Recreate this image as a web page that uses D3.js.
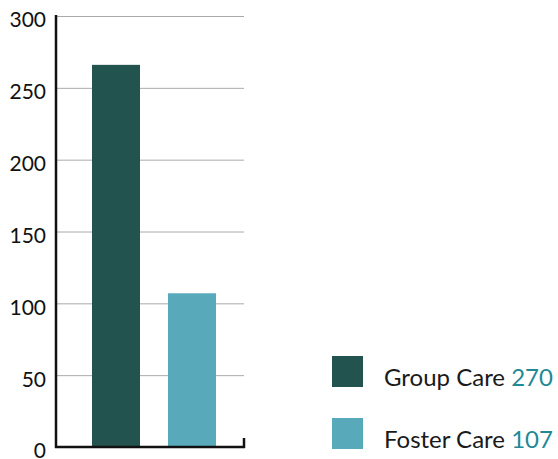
<!DOCTYPE html>
<html>
<head>
<meta charset="utf-8">
<script src="https://cdn.jsdelivr.net/npm/d3@7"></script>
<style>
  body { margin: 0; background: #fff; }
  svg { display: block; }
</style>
</head>
<body>
<div id="chart"></div>
<script>
var categories = ['Group Care', 'Foster Care'];
var barValues = [266, 107];
var legendValues = ['270', '107'];
var yTicks = [0, 50, 100, 150, 200, 250, 300];
var colours = ['#22534f', '#58aabb'];

var width = 558, height = 459;
var plotLeft = 56, plotRight = 244, plotTop = 16, plotBottom = 447;

var svg = d3.select('#chart').append('svg')
    .attr('width', width)
    .attr('height', height);

var yScale = d3.scaleLinear().domain([0, 300]).range([plotBottom, plotTop]);
var xScale = d3.scaleBand()
    .domain(categories)
    .range([64, plotRight])
    .paddingInner(28 / 76)
    .paddingOuter(28 / 76);

// gridlines
svg.append('g')
    .selectAll('line')
    .data(yTicks.filter(t => t > 0))
    .join('line')
    .attr('x1', plotLeft)
    .attr('x2', plotRight)
    .attr('y1', d => yScale(d) + 0.5)
    .attr('y2', d => yScale(d) + 0.5)
    .attr('stroke', '#aaaaaa')
    .attr('stroke-width', 1);

// bars
svg.append('g')
    .selectAll('rect')
    .data(barValues)
    .join('rect')
    .attr('x', (d, i) => xScale(categories[i]))
    .attr('y', d => yScale(d))
    .attr('width', xScale.bandwidth())
    .attr('height', d => yScale(0) - yScale(d))
    .attr('fill', (d, i) => colours[i]);

// y axis
var yAxis = d3.axisLeft(yScale).tickValues(yTicks).tickSize(0).tickPadding(10);
var yg = svg.append('g')
    .attr('transform', 'translate(' + plotLeft + ',0)')
    .call(yAxis);
yg.select('.domain').remove();
yg.selectAll('.tick text')
    .attr('dy', '0.52em')
    .style('font-family', 'Lato, Open Sans, sans-serif')
    .style('font-size', '21px')
    .attr('fill', '#111');

// axis lines
svg.append('line')
    .attr('x1', plotLeft).attr('x2', plotLeft)
    .attr('y1', plotTop - 1).attr('y2', plotBottom + 1)
    .attr('stroke', '#111').attr('stroke-width', 2.5);
svg.append('line')
    .attr('x1', plotLeft - 1).attr('x2', plotRight + 1)
    .attr('y1', plotBottom).attr('y2', plotBottom)
    .attr('stroke', '#111').attr('stroke-width', 2.5);
svg.append('line')
    .attr('x1', plotRight).attr('x2', plotRight)
    .attr('y1', plotBottom - 9).attr('y2', plotBottom + 1)
    .attr('stroke', '#111').attr('stroke-width', 2.5);

// legend
var legend = svg.append('g')
    .selectAll('g')
    .data(categories)
    .join('g')
    .attr('transform', (d, i) => 'translate(332,' + (356 + i * 62) + ')');

legend.append('rect')
    .attr('width', 31)
    .attr('height', 31)
    .attr('fill', (d, i) => colours[i]);

var lt = legend.append('text')
    .attr('x', 52)
    .attr('y', 30)
    .style('font-family', 'Lato, Open Sans, sans-serif')
    .style('font-size', '24px')
    .attr('fill', '#1a1a1a');
lt.append('tspan').text(d => d + ' ');
lt.append('tspan').attr('fill', '#1f8995').text((d, i) => legendValues[i]);
</script>
</body>
</html>
